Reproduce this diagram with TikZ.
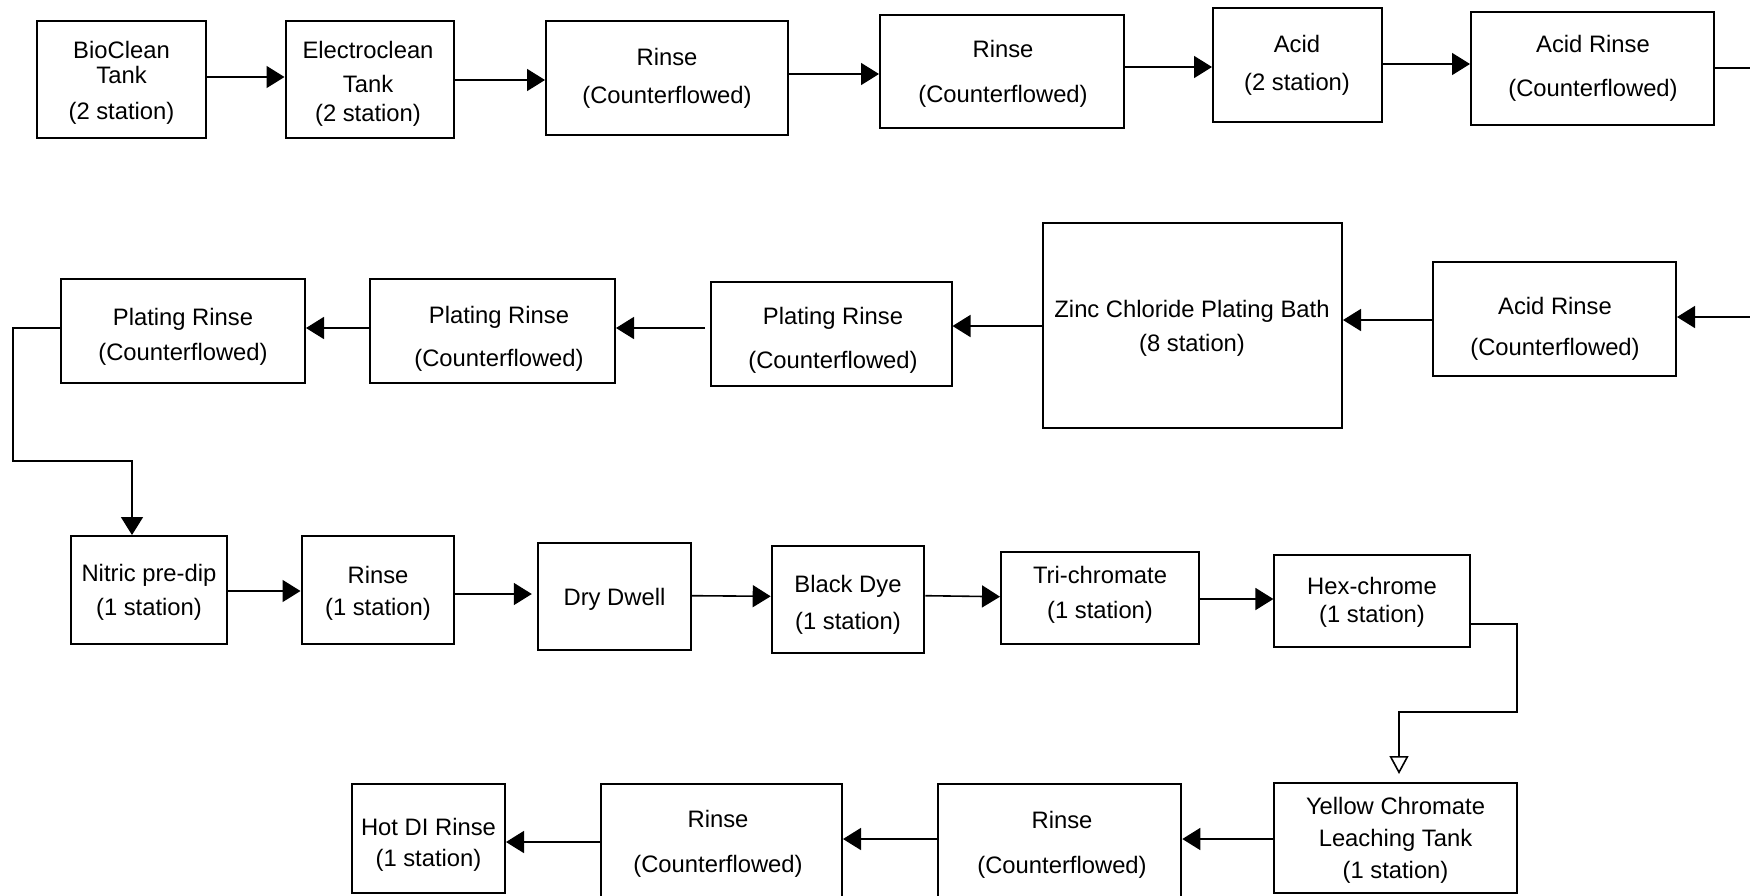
\documentclass[tikz,border=0pt]{standalone}
\usepackage{fontspec}
\setmainfont{Liberation Sans}
\usetikzlibrary{arrows.meta,fit}
\tikzset{
  box/.style={draw, line width=1pt, inner sep=0pt},
  lbl/.style={font=\fontsize{11.9}{14}\selectfont, align=center, inner sep=0pt, yshift=-1.2pt},
  arr/.style={line width=0.8pt, -{Triangle[length=9pt,width=11pt]}},
  ln/.style={line width=0.8pt},
  oarr/.style={line width=0.8pt, -{Triangle[open,length=9pt,width=9.5pt]}}
}
\begin{document}
\begin{tikzpicture}[x=0.5pt,y=-0.5pt]
\useasboundingbox (0,0) rectangle (1750,895);
\clip (0,0) rectangle (1750,895);
\fill[white] (0,0) rectangle (1750,895);

% ---------- Row 1 ----------
\node[box, fit={(37,21) (206,138)}] (bio) {};
\node[lbl] (bio-t) at (121.5,80.8) {BioClean\\[-1.7pt]Tank\\[4.3pt](2 station)};
\node[box, fit={(285.5,21) (454,138)}] (elec) {};
\node[lbl] (elec-t) at (368,81.5) {Electroclean\\[2.8pt]Tank\\[0.7pt](2 station)};
\node[box, fit={(546,21) (788,135)}] (rin1) {};
\node[lbl] (rin1-t) at (667,75.8) {Rinse\\[5pt](Counterflowed)};
\node[box, fit={(880,15) (1124,128)}] (rin2) {};
\node[lbl] (rin2-t) at (1003,71.3) {Rinse\\[8.3pt](Counterflowed)};
\node[box, fit={(1213,8) (1381.5,122)}] (acid) {};
\node[lbl] (acid-t) at (1297,63.3) {Acid\\[5pt](2 station)};
\node[box, fit={(1471,12) (1714.4,125)}] (ar1) {};
\node[lbl] (ar1-t) at (1593,65.8) {Acid Rinse\\[8pt](Counterflowed)};

% ---------- Row 2 ----------
\node[box, fit={(1433,262) (1676,376)}] (ar2) {};
\node[lbl] (ar2-t) at (1555,326) {Acid Rinse\\[6.5pt](Counterflowed)};
\node[box, fit={(1043,223) (1342,428)}] (zinc) {};
\node[lbl] (zinc-t) at (1192,326) {Zinc Chloride Plating Bath\\[2.8pt](8 station)};
\node[box, fit={(711,282) (951.5,386)}] (pr3) {};
\node[lbl] (pr3-t) at (833,338) {Plating Rinse\\[8pt](Counterflowed)};
\node[box, fit={(370,279) (615,383)}] (pr2) {};
\node[lbl] (pr2-t) at (499,336.7) {Plating Rinse\\[7.7pt](Counterflowed)};
\node[box, fit={(61,279) (305,383)}] (pr1) {};
\node[lbl] (pr1-t) at (183,334) {Plating Rinse\\[3.5pt](Counterflowed)};

% ---------- Row 3 ----------
\node[box, fit={(71,536) (226.5,644)}] (nit) {};
\node[lbl] (nit-t) at (149,590) {Nitric pre-dip\\[2.7pt](1 station)};
\node[box, fit={(301.5,536) (454,644)}] (r1s) {};
\node[lbl] (r1s-t) at (378,590.5) {Rinse\\[2pt](1 station)};
\node[box, fit={(538.4,543) (690.6,650)}] (dry) {};
\node[lbl] (dry-t) at (614.5,596.5) {Dry Dwell};
\node[box, fit={(771.7,546) (924.4,653)}] (bd) {};
\node[lbl] (bd-t) at (848,602.5) {Black Dye\\[4.5pt](1 station)};
\node[box, fit={(1001,552) (1199,644)}] (tri) {};
\node[lbl] (tri-t) at (1100,592.5) {Tri-chromate\\[3.5pt](1 station)};
\node[box, fit={(1274.4,555) (1469.5,647)}] (hex) {};
\node[lbl] (hex-t) at (1372,600) {Hex-chrome\\[0.1pt](1 station)};

% ---------- Row 4 ----------
\node[box, fit={(1274,783) (1517,893)}] (yel) {};
\node[lbl, yshift=1.2pt] (yel-t) at (1395.5,840) {Yellow Chromate\\[2pt]Leaching Tank\\[2pt](1 station)};
\node[box, fit={(938,784) (1181.3,910)}] (rb) {};
\node[lbl] (rb-t) at (1062,842.5) {Rinse\\[8.5pt](Counterflowed)};
\node[box, fit={(600.6,784) (842,910)}] (ra) {};
\node[lbl] (ra-t) at (718,841.5) {Rinse\\[8.5pt](Counterflowed)};
\node[box, fit={(352,784) (505,893)}] (hot) {};
\node[lbl] (hot-t) at (428.5,842.5) {Hot DI Rinse\\[1.5pt](1 station)};

% ---------- Connectors ----------
\draw[arr] (bio.east |- 0,77) -- (elec.west |- 0,77);
\draw[arr] (elec.east |- 0,80) -- (rin1.west |- 0,80);
\draw[arr] (rin1.east |- 0,74) -- (rin2.west |- 0,74);
\draw[arr] (rin2.east |- 0,67) -- (acid.west |- 0,67);
\draw[arr] (acid.east |- 0,64) -- (ar1.west |- 0,64);
\coordinate (r1end) at (1750,67.7);
\draw[ln] (ar1.east |- 0,67.7) -- (r1end);

\coordinate (r2start) at (1750,317);
\draw[arr] (r2start) -- (ar2.east |- 0,317);
\draw[arr] (ar2.west |- 0,320) -- (zinc.east |- 0,320);
\draw[arr] (zinc.west |- 0,326) -- (pr3.east |- 0,326);
\draw[arr, shorten <=2.5pt] (pr3.west |- 0,328) -- (pr2.east |- 0,328);
\draw[arr] (pr2.west |- 0,328) -- (pr1.east |- 0,328);
\draw[arr] (pr1.west |- 0,328) -- (13,328) -- (13,461) -- (132,461) -- (nit.north -| 132,0);

\draw[arr] (nit.east |- 0,591) -- (r1s.west |- 0,591);
\draw[arr, shorten >=2.8pt] (r1s.east |- 0,594) -- (dry.west |- 0,594);
\draw[arr] (dry.east |- 0,595.7) -- (bd.west |- 0,596.3);
\draw[arr] (bd.east |- 0,595.7) -- (tri.west |- 0,596.7);
\draw[arr] (tri.east |- 0,599) -- (hex.west |- 0,599);
\draw[oarr, shorten >=4pt] (hex.east |- 0,624) -- (1517,624) -- (1517,712) -- (1399,712) -- (yel.north -| 1399,0);

\draw[arr] (yel.west |- 0,839) -- (rb.east |- 0,839);
\draw[arr] (rb.west |- 0,839) -- (ra.east |- 0,839);
\draw[arr] (ra.west |- 0,842) -- (hot.east |- 0,842);
\end{tikzpicture}
\end{document}
